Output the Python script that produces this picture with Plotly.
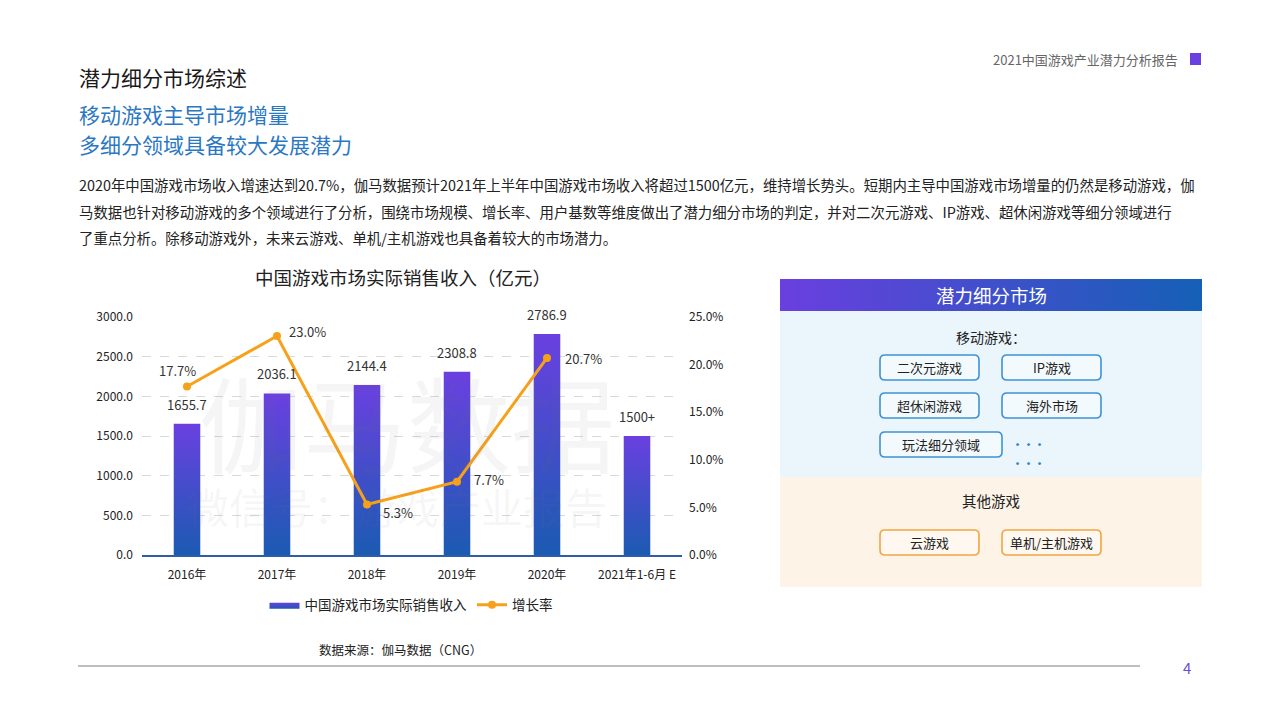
import plotly.graph_objects as go

# ---------------- data ----------------
categories = ["2016年", "2017年", "2018年", "2019年", "2020年", "2021年1-6月 E"]
revenue = [1655.7, 2036.1, 2144.4, 2308.8, 2786.9, 1500]
revenue_labels = ["1655.7", "2036.1", "2144.4", "2308.8", "2786.9", "1500+"]
growth = [17.7, 23.0, 5.3, 7.7, 20.7]
growth_labels = ["17.7%", "23.0%", "5.3%", "7.7%", "20.7%"]

left_ticks = [0, 500, 1000, 1500, 2000, 2500, 3000]
right_ticks = [0, 5, 10, 15, 20, 25]
right_tick_text = ["0.0%", "5.0%", "10.0%", "15.0%", "20.0%", "25.0%"]

mobile_items = ["二次元游戏", "IP游戏", "超休闲游戏", "海外市场", "玩法细分领域"]
other_items = ["云游戏", "单机/主机游戏"]

paragraph = [
    "2020年中国游戏市场收入增速达到20.7%，伽马数据预计2021年上半年中国游戏市场收入将超过1500亿元，维持增长势头。短期内主导中国游戏市场增量的仍然是移动游戏，伽",
    "马数据也针对移动游戏的多个领域进行了分析，围绕市场规模、增长率、用户基数等维度做出了潜力细分市场的判定，并对二次元游戏、IP游戏、超休闲游戏等细分领域进行",
    "了重点分析。除移动游戏外，未来云游戏、单机/主机游戏也具备着较大的市场潜力。",
]

# ---------------- style ----------------
W, H = 1280, 720
FONT = "Noto Sans CJK SC"
PURPLE = "#6A40E0"
BLUE = "#1B5BB2"
ORANGE = "#F7A11A"
TXT = "#333333"
BAR_W = 0.295
growth_offsets = [(-10, 16), (30, 5), (31, -8), (32, 2), (36, -1)]  # label shift (px)


def px(x):
    return x / W


def py(y):
    return 1 - y / H


def rrect(x0, y0, x1, y1, r):
    rx, ry = r / W, r / H
    X0, X1 = px(x0), px(x1)
    Y0, Y1 = py(y0), py(y1)
    return (f"M{X0+rx},{Y0} L{X1-rx},{Y0} Q{X1},{Y0} {X1},{Y0-ry} "
            f"L{X1},{Y1+ry} Q{X1},{Y1} {X1-rx},{Y1} L{X0+rx},{Y1} "
            f"Q{X0},{Y1} {X0},{Y1+ry} L{X0},{Y0-ry} Q{X0},{Y0} {X0+rx},{Y0} Z")


fig = go.Figure()

# bars as gradient-filled polygons (computed from data)
for i, v in enumerate(revenue):
    fig.add_trace(go.Scatter(
        x=[i - BAR_W / 2, i + BAR_W / 2, i + BAR_W / 2, i - BAR_W / 2, i - BAR_W / 2],
        y=[0, 0, v, v, 0],
        mode="lines", fill="toself",
        line=dict(width=0, color="rgba(0,0,0,0)"),
        fillgradient=dict(type="vertical", colorscale=[[0, BLUE], [1, PURPLE]]),
        name="中国游戏市场实际销售收入", legendgroup="rev",
        showlegend=(i == 0), hoverinfo="skip",
    ))

fig.add_trace(go.Scatter(
    x=list(range(len(growth))), y=growth, yaxis="y2",
    mode="lines+markers", name="增长率",
    line=dict(color=ORANGE, width=3),
    marker=dict(color=ORANGE, size=8),
    cliponaxis=False,
))

annotations = []
for i, (v, t) in enumerate(zip(revenue, revenue_labels)):
    annotations.append(dict(x=i, y=v, xref="x", yref="y", text=t, showarrow=False,
                            xanchor="center", yanchor="bottom", yshift=8,
                            font=dict(family=FONT, size=13, color=TXT)))
for i, (g, t) in enumerate(zip(growth, growth_labels)):
    dx, dy = growth_offsets[i]
    annotations.append(dict(x=i, y=g, xref="x", yref="y2", text=t, showarrow=False,
                            xshift=dx, yshift=dy, xanchor="center", yanchor="middle",
                            font=dict(family=FONT, size=13, color=TXT)))

# watermark
annotations.append(dict(x=px(407), y=py(420), xref="paper", yref="paper", text="伽马数据",
                        xanchor="center", yanchor="middle",
                        showarrow=False, font=dict(family=FONT, size=104, color="rgba(120,120,120,0.07)")))
annotations.append(dict(x=px(397), y=py(506), xref="paper", yref="paper", text="微信号：游戏产业报告",
                        xanchor="center", yanchor="middle",
                        showarrow=False, font=dict(family=FONT, size=42, color="rgba(120,120,120,0.07)")))


def txt(x, y, s, size, color=TXT, anchor="left"):
    annotations.append(dict(x=px(x), y=py(y), xref="paper", yref="paper", text=s,
                            showarrow=False, xanchor=anchor, yanchor="middle",
                            font=dict(family=FONT, size=size, color=color)))


txt(1180, 59, "2021中国游戏产业潜力分析报告", 13, "#666666", "right")
txt(77, 77, "潜力细分市场综述", 21, "#1a1a1a")
txt(77, 114, "移动游戏主导市场增量", 21, "#2B78C2")
txt(77, 144, "多细分领域具备较大发展潜力", 21, "#2B78C2")
for k, line in enumerate(paragraph):
    txt(77, 184 + 27 * k, line, 14.4, "#222222")
txt(403, 277, "中国游戏市场实际销售收入（亿元）", 18.5, "#222222", "center")
txt(400, 649, "数据来源：伽马数据（CNG）", 12.5, "#222222", "center")
txt(1187, 667, "4", 15, "#6A4FD3", "center")

# right panel texts
txt(991, 295, "潜力细分市场", 18.5, "white", "center")
txt(991, 337, "移动游戏：", 14, "#222222", "center")
txt(991, 500, "其他游戏", 14.5, "#222222", "center")

shapes = []
shapes.append(dict(type="rect", xref="paper", yref="paper", x0=px(1190), x1=px(1201),
                   y0=py(65), y1=py(53), fillcolor=PURPLE, line=dict(width=0)))
shapes.append(dict(type="line", xref="paper", yref="paper", x0=px(78), x1=px(1140),
                   y0=py(666), y1=py(666), line=dict(color="#7f7f7f", width=1)))
shapes.append(dict(type="rect", xref="paper", yref="paper", x0=px(780), x1=px(1202),
                   y0=py(477), y1=py(311), fillcolor="#EAF5FC", line=dict(width=0), layer="below"))
shapes.append(dict(type="rect", xref="paper", yref="paper", x0=px(780), x1=px(1202),
                   y0=py(587), y1=py(477), fillcolor="#FDF3E7", line=dict(width=0), layer="below"))

mobile_boxes = [(880, 355, 979, 380), (1002, 355, 1101, 380),
                (880, 393, 979, 418), (1002, 393, 1101, 418),
                (880, 432, 1002, 457)]
for (x0, y0, x1, y1), s in zip(mobile_boxes, mobile_items):
    shapes.append(dict(type="path", xref="paper", yref="paper", path=rrect(x0, y0, x1, y1, 5),
                       fillcolor="#F3FAFE", line=dict(color="#3E92D4", width=1.6)))
    txt((x0 + x1) / 2, (y0 + y1) / 2, s, 13, "#222222", "center")
other_boxes = [(880, 530, 979, 555), (1002, 530, 1101, 555)]
for (x0, y0, x1, y1), s in zip(other_boxes, other_items):
    shapes.append(dict(type="path", xref="paper", yref="paper", path=rrect(x0, y0, x1, y1, 5),
                       fillcolor="#FEF8F0", line=dict(color="#F2A541", width=1.6)))
    txt((x0 + x1) / 2, (y0 + y1) / 2, s, 13, "#222222", "center")
txt(1028, 444, "<b>•••</b>", 11, "#2E86D0", "center")
txt(1028, 463, "<b>•••</b>", 11, "#2E86D0", "center")

# header gradient band (decoration on a full-page helper axis)
fig.add_trace(go.Scatter(
    x=[780, 1202, 1202, 780, 780], y=[279, 279, 311, 311, 279],
    xaxis="x3", yaxis="y3", mode="lines", fill="toself",
    line=dict(width=0, color="rgba(0,0,0,0)"),
    fillgradient=dict(type="horizontal", colorscale=[[0, "#6A3FDF"], [1, "#1560B6"]]),
    showlegend=False, hoverinfo="skip",
))

fig.update_layout(
    width=W, height=H, margin=dict(l=0, r=0, t=0, b=0, pad=0, autoexpand=False),
    paper_bgcolor="white", plot_bgcolor="rgba(0,0,0,0)",
    font=dict(family=FONT, color=TXT),
    showlegend=True,
    legend=dict(orientation="h", x=px(411), xanchor="center", y=py(605), yanchor="middle",
                font=dict(family=FONT, size=13.5, color="#222222"), bgcolor="rgba(0,0,0,0)",
                itemwidth=30, tracegroupgap=0),
    xaxis=dict(domain=[px(142), px(682)], range=[-0.5, 5.5],
               tickvals=list(range(len(categories))), ticktext=categories,
               showgrid=False, zeroline=False, showline=True, linecolor="#2F5DA8", linewidth=1.5,
               ticks="", tickfont=dict(family=FONT, size=12, color="#222222"),
               ticklabelstandoff=8, automargin=False),
    yaxis=dict(domain=[py(555), py(317)], range=[0, 3000], tickvals=left_ticks,
               tickformat=".1f", showgrid=True, gridcolor="#D9D9D9", griddash="dash",
               zeroline=False, showline=False, ticks="", automargin=False,
               tickfont=dict(family=FONT, size=12, color="#222222"), ticklabelstandoff=8),
    yaxis2=dict(overlaying="y", side="right", range=[0, 25], tickvals=right_ticks,
                ticktext=right_tick_text, showgrid=False, zeroline=False, automargin=False,
                tickfont=dict(family=FONT, size=12, color="#222222"), ticklabelstandoff=6),
    xaxis3=dict(domain=[0, 1], range=[0, W], visible=False, fixedrange=True, automargin=False),
    yaxis3=dict(domain=[0, 1], range=[H, 0], visible=False, fixedrange=True, anchor="x3",
                automargin=False),
    annotations=annotations, shapes=shapes,
)

fig.write_html("out.html", config={"displayModeBar": False},
               post_script="document.body.style.margin='0';")
